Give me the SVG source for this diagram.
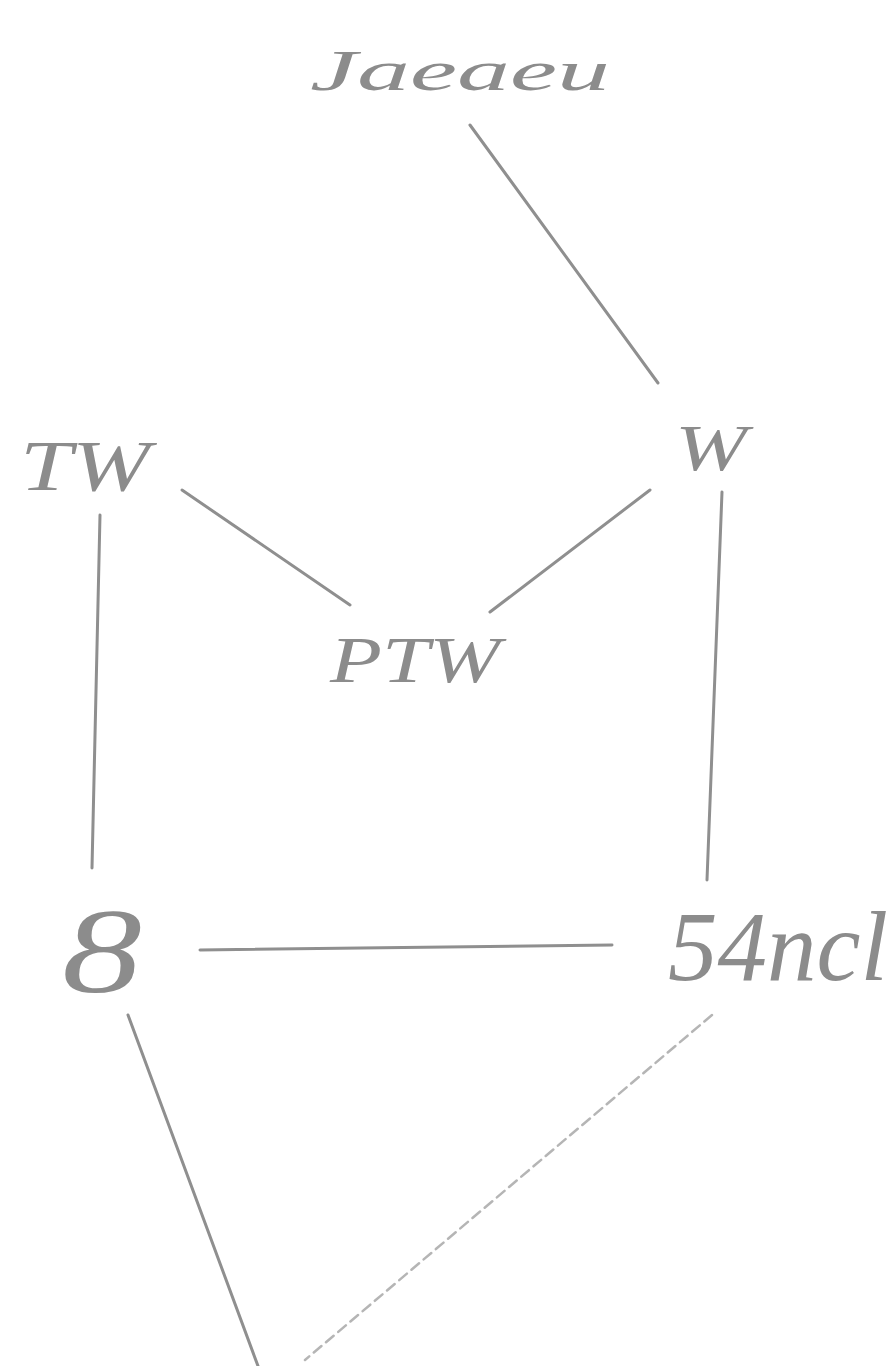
<svg xmlns="http://www.w3.org/2000/svg" width="889" height="1366" viewBox="0 0 889 1366">
<style>
.lbl{font-family:"Liberation Serif",serif;font-style:italic;fill:#8c8c8c;}
.edge{stroke:#8f8f8f;stroke-width:3;stroke-linecap:round;fill:none;}
.faint{stroke:#b5b5b5;stroke-width:2.5;stroke-dasharray:10 6;}
</style>
<rect width="889" height="1366" fill="#ffffff"/>
<g id="connectors">
<path class="edge" d="M470,125 L658,383"/>
<path class="edge" d="M182,490 L350,605"/>
<path class="edge" d="M650,490 L490,612"/>
<path class="edge" d="M100,515 L92,868"/>
<path class="edge" d="M722,492 L707,880"/>
<path class="edge" d="M200,950 L612,945"/>
<path class="edge" d="M128,1015 L258,1366"/>
<path class="edge faint" d="M712,1015 L305,1360"/>
</g>
<g id="n-top"><text class="lbl" x="310" y="90" font-size="58" textLength="300" lengthAdjust="spacingAndGlyphs">Jaeaeu</text></g>
<g id="n-tw"><text class="lbl" x="20" y="490" font-size="72" textLength="130" lengthAdjust="spacingAndGlyphs">TW</text></g>
<g id="n-w"><text class="lbl" x="675" y="470" font-size="66" textLength="72" lengthAdjust="spacingAndGlyphs">W</text></g>
<g id="n-ptw"><text class="lbl" x="330" y="682" font-size="66" textLength="170" lengthAdjust="spacingAndGlyphs">PTW</text></g>
<g id="n-8"><text class="lbl" x="62" y="992" font-size="120" textLength="80" lengthAdjust="spacingAndGlyphs">8</text></g>
<g id="n-54ncl"><text class="lbl" x="668" y="980" font-size="100" textLength="220" lengthAdjust="spacingAndGlyphs">54ncl</text></g>
</svg>
